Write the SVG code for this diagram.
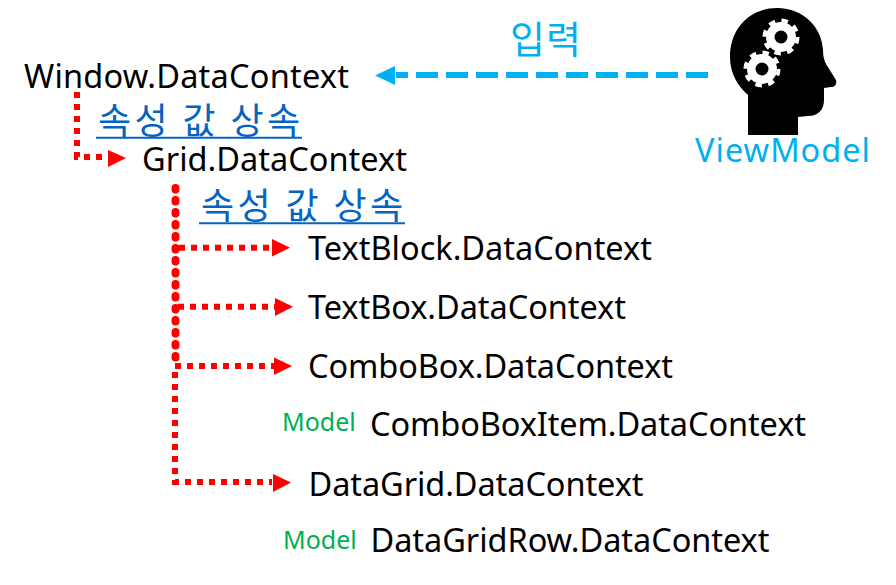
<svg xmlns="http://www.w3.org/2000/svg" width="896" height="585" viewBox="0 0 896 585">
<style>
text{font-family:"Noto Sans","Open Sans","Noto Sans CJK KR",sans-serif;font-size:32.5px;fill:#000}
.k{fill:#0563c1;font-family:"Noto Sans CJK KR",sans-serif;font-size:36px}
.u{stroke:#0563c1;stroke-width:2;fill:none}
.m{fill:#00b050;font-size:25px}
.b{fill:#00b0f0}
.r{fill:none;stroke:#f00;stroke-width:6;stroke-dasharray:6 6}
.v{fill:none;stroke:#f00;stroke-width:8;stroke-linecap:round;stroke-dasharray:1.500 10.500}
.h{fill:#f00}
</style>
<rect width="896" height="585" fill="#fff"/>
<g id="connectors">
<path class="r" d="M77 92V157H108"/>
<path class="h" d="M108 150L126 158L108 167z"/>
<path class="v" d="M175.500 188V366"/>
<path class="r" d="M175 372V482H272"/>
<path class="r" d="M179 247.700H272"/><path class="r" d="M178 306.700H275"/><path class="r" d="M175 366H274"/>
<path class="h" d="M272 239L290 247.700L272 256.500z M275 298L293 306.700L275 316z M274 357.500L292 366L274 375z M273 474L291 482.500L273 492z"/>
<path d="M708 75H396" fill="none" stroke="#00b0f0" stroke-width="6" stroke-dasharray="22 8"/>
<path d="M395 66L375 75.500L395 85z" fill="#00b0f0"/>
</g>
<g id="viewmodel"><path d="M748 135V95C738 86 730 74 730 57C730 28 750 8 777 8C804 8 822 28 823 50C823 56 824 60 826 64L836 80C837 84 835 87 831 87L824 88V100C824 110 818 116 808 116L798 117V135Z" fill="#000"/>
<g fill="#fff"><circle cx="781" cy="37" r="15"/><circle cx="781" cy="37" r="16.500" fill="none" stroke="#fff" stroke-width="4" stroke-dasharray="6.500 6.460"/><circle cx="762" cy="69" r="15"/><circle cx="762" cy="69" r="16.500" fill="none" stroke="#fff" stroke-width="4" stroke-dasharray="6.500 6.460"/></g>
<circle cx="781" cy="37" r="6.500"/><circle cx="762" cy="69" r="6.500"/>
<text x="695" y="162" class="b" textLength="175">ViewModel</text></g>
<g id="input"><text x="510" y="53" class="b" style="font-family:'Noto Sans CJK KR';font-size:38px" textLength="71">입력</text></g>
<g id="window"><text x="24" y="88" textLength="325">Window.DataContext</text></g>
<g id="l1"><text x="98" y="133.500" class="k" textLength="202">속성 값 상속</text><path class="u" d="M96 137.700H302"/></g>
<g id="grid"><text x="142" y="171" textLength="265">Grid.DataContext</text></g>
<g id="l2"><text x="201" y="219" class="k" textLength="202">속성 값 상속</text><path class="u" d="M199 223.300H405"/></g>
<g id="tb"><text x="308" y="260" textLength="344">TextBlock.DataContext</text></g>
<g id="tbx"><text x="308" y="319" textLength="318">TextBox.DataContext</text></g>
<g id="cb"><text x="308" y="378" textLength="365">ComboBox.DataContext</text></g>
<g id="cbi"><text x="282" y="431" class="m">Model</text><text x="370" y="436" textLength="436">ComboBoxItem.DataContext</text></g>
<g id="dg"><text x="308.500" y="496" textLength="335">DataGrid.DataContext</text></g>
<g id="dgr"><text x="283" y="549" class="m">Model</text><text x="370.500" y="552" textLength="399">DataGridRow.DataContext</text></g>
</svg>
